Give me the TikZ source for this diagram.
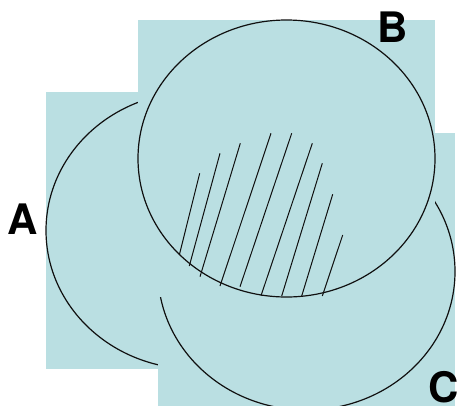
\documentclass[tikz,border=0pt]{standalone}
\usepackage{fontspec}
\setmainfont{TeX Gyre Heros}
\definecolor{setfill}{HTML}{BADFE2}
\definecolor{setink}{HTML}{101010}
\tikzset{
  set box/.style={
    rectangle, fill=setfill, draw=none, inner sep=0pt, outer sep=0pt,
    minimum width=297pt, minimum height=277pt
  },
  set outline/.style={
    draw=setink, line width=1.2pt
  },
  set hatch/.style={
    draw=setink, line width=1pt, line cap=butt
  },
  set label/.style={
    inner sep=0pt, text=black, font=\fontsize{42}{46}\selectfont\bfseries
  }
}

\begin{document}
\begin{tikzpicture}[x=1pt,y=-1pt]
  \useasboundingbox (0,0) rectangle (457,405);

  % A sits at the back, then C, and B lies on top of both.
  \node[set box] (boxA) at (194.5,230.5) {};
  \draw[set outline] (boxA.center) ellipse [x radius=148.5, y radius=138.5];
  \node[set box] (boxC) at (306.5,271.5) {};
  \draw[set outline] (boxC.center) ellipse [x radius=148.5, y radius=138.5];
  \node[set box] (boxB) at (286.5,158.5) {};
  \draw[set outline] (boxB.center) ellipse [x radius=148.5, y radius=138.5];

  % Hatching in the lower part of B.
  \foreach \xa/\ya/\xb/\yb in {
      179.3/255.0/199.7/173.3, 189.3/266.0/220.0/153.3,
      200.0/276.7/240.3/143.3, 220.0/286.0/271.0/133.3,
      240.0/286.7/291.7/133.3, 261.0/295.7/312.3/143.3,
      281.7/296.0/322.3/163.3, 301.7/296.0/332.7/194.3,
      322.3/296.0/342.7/235.0}
    \draw[set hatch] (\xa,\ya) -- (\xb,\yb);

  \node[set label] (labA) at (23,219.5) {A};
  \node[set label] (labB) at (393,27) {B};
  \node[set label] (labC) at (444,387) {C};
\end{tikzpicture}
\end{document}
